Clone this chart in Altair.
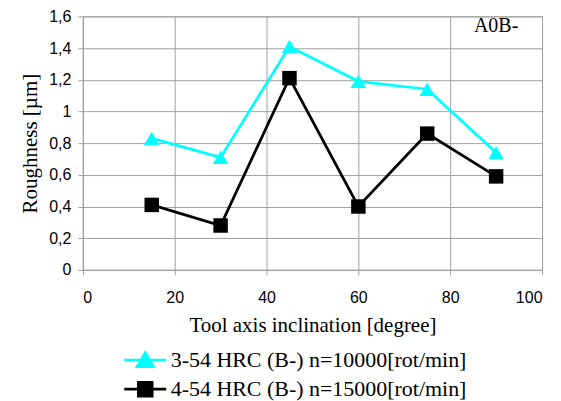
import altair as alt
import pandas as pd

angles = [15, 30, 45, 60, 75, 90]
series_a_name = "3-54 HRC (B-) n=10000[rot/min]"
series_b_name = "4-54 HRC (B-) n=15000[rot/min]"
series_a = [0.83, 0.71, 1.41, 1.19, 1.14, 0.74]
series_b = [0.41, 0.28, 1.21, 0.40, 0.86, 0.59]
x_ticks = [0, 20, 40, 60, 80, 100]
y_ticks = [0, 0.2, 0.4, 0.6, 0.8, 1.0, 1.2, 1.4, 1.6]
annotation = ["A0B-"]
annotation_pos = [90, 1.54]

rows = []
for name, vals in [(series_a_name, series_a), (series_b_name, series_b)]:
    for a, v in zip(angles, vals):
        rows.append({"angle": a, "rough": v, "series": name, "text": ""})
rows.append({"angle": annotation_pos[0], "rough": annotation_pos[1], "series": "ann",
             "text": annotation[0]})
df = pd.DataFrame(rows)

names = [series_a_name, series_b_name]
colors = ["#00FFFF", "#000000"]
color_scale = alt.Scale(domain=names, range=colors)
shape_scale = alt.Scale(domain=names, range=["triangle-up", "square"])
legend_shapes = alt.Scale(
    domain=names,
    range=[
        "M-1.4,0H1.4M0,-0.5L0.54,0.43L-0.54,0.43Z",
        "M-1.4,0H1.4M-0.46,-0.46H0.46V0.46H-0.46Z",
    ],
)

x = alt.X("angle:Q", scale=alt.Scale(domain=[0, 100]),
          axis=alt.Axis(values=x_ticks, title="Tool axis inclination [degree]"))
y = alt.Y("rough:Q", scale=alt.Scale(domain=[0, 1.6]),
          axis=alt.Axis(values=y_ticks, title="Roughness [µm]", labelOverlap=False,
                        labelExpr="replace(format(datum.value, '~g'), '.', ',')"))

base = alt.Chart(df).transform_filter("datum.series != 'ann'")
lines = base.mark_line(strokeWidth=2.75).encode(
    x=x, y=y, color=alt.Color("series:N", scale=color_scale, legend=None),
    detail="series:N")
points = base.mark_point(filled=True, opacity=1).encode(
    x=x, y=y,
    color=alt.Color("series:N", scale=color_scale, legend=None),
    shape=alt.Shape("series:N", scale=shape_scale, legend=None),
    size=alt.Size("series:N", scale=alt.Scale(domain=names, range=[240, 210]), legend=None))
legend_layer = alt.Chart(df).transform_filter("false").mark_point(
    filled=True, size=900, strokeWidth=2.75, opacity=1).encode(
    x=x, y=y,
    fill=alt.Fill("series:N", scale=color_scale,
                  legend=alt.Legend(title=None, orient="none", direction="vertical",
                                    legendX=46, legendY=328,
                                    symbolSize=900, symbolStrokeWidth=2.75,
                                    symbolOpacity=1,
                                    labelFont="Liberation Serif", labelFontSize=22,
                                    labelColor="#000000", rowPadding=0,
                                    labelLimit=500, labelOffset=9)),
    stroke=alt.Stroke("series:N", scale=color_scale),
    shape=alt.Shape("series:N", scale=legend_shapes),
)

ann = alt.Chart(df).transform_filter("datum.series == 'ann'").mark_text(
    font="Liberation Serif", fontSize=20, color="#000000", align="center").encode(
    x=x, y=y, text="text:N")

chart = alt.layer(lines, points, legend_layer, ann).resolve_scale(
    shape="independent", color="independent", fill="independent",
    stroke="independent", size="independent"
).properties(
    width=460, height=254, padding={"left": 11, "top": 0, "right": 10, "bottom": 0}
).configure_view(stroke="#a0a0a0", strokeWidth=1).configure_axis(
    gridColor="#a0a0a0", gridOpacity=1, gridWidth=1,
    domainColor="#a0a0a0", tickColor="#a0a0a0", tickSize=5,
    labelFont="Liberation Sans", labelFontSize=16, labelColor="#000000",
    titleFont="Liberation Serif", titleFontSize=21, titleFontWeight="normal",
    titleColor="#000000",
).configure_axisX(titlePadding=9, labelPadding=15).configure_axisY(titlePadding=8, labelPadding=7)

chart.save("out.html", embed_options={"renderer": "svg", "actions": False})
